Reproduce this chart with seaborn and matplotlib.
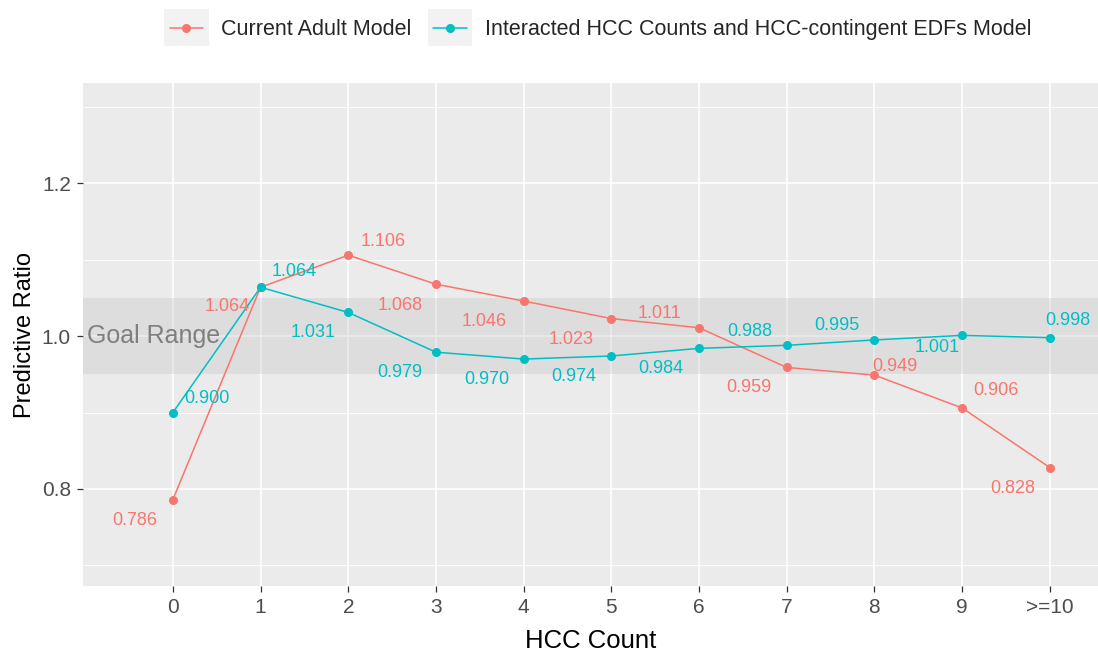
import pandas as pd
import matplotlib
matplotlib.use("Agg")
import matplotlib.pyplot as plt
import seaborn as sns
from matplotlib.lines import Line2D
from matplotlib.patches import Rectangle
from matplotlib.legend_handler import HandlerLine2D

# ---- data ----
hcc_labels = ["0", "1", "2", "3", "4", "5", "6", "7", "8", "9", ">=10"]
current_adult = [0.786, 1.064, 1.106, 1.068, 1.046, 1.023, 1.011, 0.959, 0.949, 0.906, 0.828]
interacted = [0.900, 1.064, 1.031, 0.979, 0.970, 0.974, 0.984, 0.988, 0.995, 1.001, 0.998]
series_names = ["Current Adult Model", "Interacted HCC Counts and HCC-contingent EDFs Model"]
goal_low, goal_high = 0.95, 1.05

# label offsets (pixels) so the numbers don't sit on the points
red_offsets = [(-38, -21), (-33, -19), (35, 14), (-36, -21), (-39, -20), (-40, -21),
               (-40, 14), (-38, -20), (20, 9), (34, 17), (-37, -21)]
cyan_offsets = [(34, 14), (34, 16), (-35, -20), (-36, -20), (-37, -20), (-38, -20),
                (-38, -20), (-37, 14), (-38, 14), (-25, -12), (18, 17)]

colors = ["#F8766D", "#00BFC4"]

sns.set_theme(style="darkgrid")
plt.rcParams.update({
    "axes.facecolor": "#EBEBEB",
    "grid.color": "white",
    "axes.edgecolor": "#EBEBEB",
    "xtick.color": "#333333",
    "ytick.color": "#333333",
    "xtick.labelcolor": "#4D4D4D",
    "ytick.labelcolor": "#4D4D4D",
    "xtick.bottom": True,
    "ytick.left": True,
    "xtick.major.size": 4,
    "ytick.major.size": 4,
    "xtick.major.width": 0.9,
    "ytick.major.width": 0.9,
})
plt.rcParams["font.family"] = ["Liberation Sans", "DejaVu Sans"]

df = pd.DataFrame({
    "pos": list(range(len(hcc_labels))) * 2,
    "ratio": current_adult + interacted,
    "model": [series_names[0]] * len(hcc_labels) + [series_names[1]] * len(hcc_labels),
})

fig = plt.figure(figsize=(10.98, 6.51), dpi=100)
ax = fig.add_axes([0.076, 0.100, 0.924, 0.772])

ax.axhspan(goal_low, goal_high, color="#BEBEBE", alpha=0.3, lw=0, zorder=1)

sns.lineplot(data=df, x="pos", y="ratio", hue="model", palette=colors, marker="o",
             markersize=6.5, markeredgewidth=0, linewidth=1.1, ax=ax, legend=False, zorder=3)

for vals, offs, c in [(current_adult, red_offsets, colors[0]), (interacted, cyan_offsets, colors[1])]:
    for i, (v, o) in enumerate(zip(vals, offs)):
        ax.annotate(f"{v:.3f}", (i, v), xytext=o, textcoords="offset pixels",
                    ha="center", va="center", color=c, fontsize=13, zorder=4)

ax.text(-0.22, 1.0, "Goal Range", ha="center", va="center", color="#7F7F7F", fontsize=18, zorder=4)

ax.set_xlim(-1.02, 10.55)
ax.set_ylim(0.673, 1.331)
ax.set_xticks(range(len(hcc_labels)))
ax.set_xticklabels(hcc_labels)
ax.set_yticks([0.8, 1.0, 1.2])
ax.set_yticklabels(["0.8", "1.0", "1.2"])
ax.set_yticks([0.7, 0.9, 1.1, 1.3], minor=True)
ax.grid(axis="y", which="minor", color="white", linewidth=0.6)
ax.grid(axis="y", which="major", color="white", linewidth=1.2)
ax.grid(axis="x", which="major", color="white", linewidth=1.2)
ax.tick_params(axis="both", which="major", labelsize=15, pad=5)
ax.tick_params(axis="y", which="minor", left=False)
for s in ax.spines.values():
    s.set_visible(False)
ax.set_xlabel("HCC Count", fontsize=18.5, color="black", labelpad=8)
ax.set_ylabel("Predictive Ratio", fontsize=17, color="black", labelpad=4)


class KeyHandler(HandlerLine2D):
    # ggplot-style legend key: grey box behind line + point
    def create_artists(self, legend, orig_handle, xdescent, ydescent, width, height, fontsize, trans):
        bg = Rectangle((-xdescent - 4, -ydescent - 8), width + 8, height + 16,
                       facecolor="#F2F2F2", edgecolor="none", transform=trans)
        arts = super().create_artists(legend, orig_handle, xdescent, ydescent, width, height, fontsize, trans)
        return [bg] + list(arts)


handles = [Line2D([], [], color=c, marker="o", markersize=6.5, markeredgewidth=0, linewidth=1.1)
           for c in colors]
fig.legend(handles, series_names, loc="upper center", bbox_to_anchor=(0.547, 1.0), ncol=2,
           frameon=False, fontsize=15.5, handlelength=1.55, handletextpad=0.85, columnspacing=1.0,
           handler_map={Line2D: KeyHandler(numpoints=1)})

fig.savefig("out.png", dpi=100)
